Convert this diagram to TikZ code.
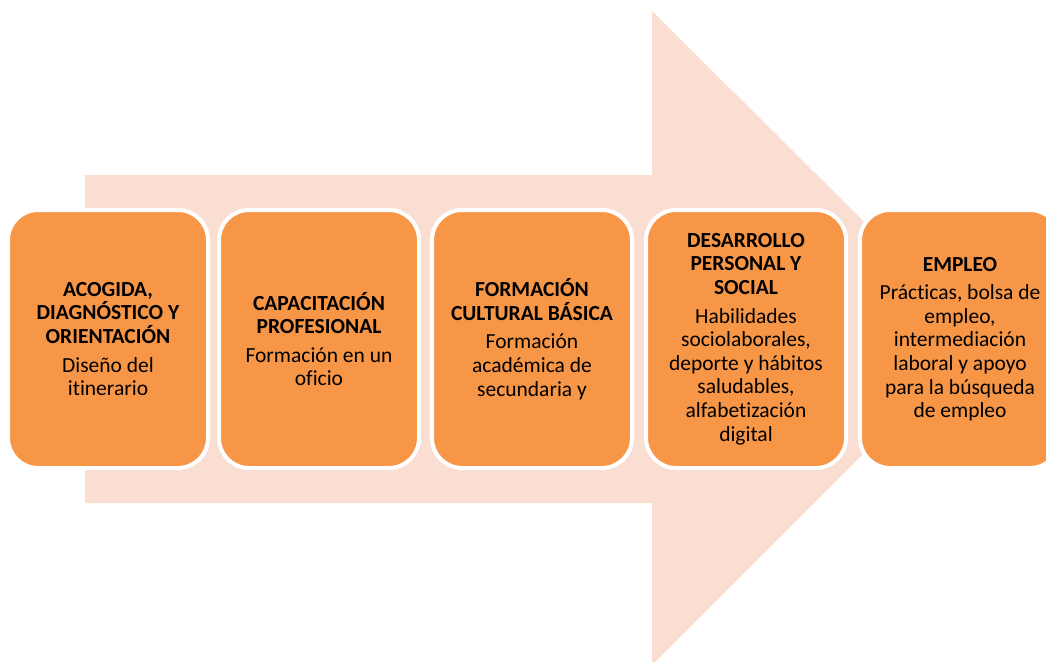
\documentclass[tikz,border=0pt]{standalone}
\usepackage{fontspec}
\setmainfont{Carlito}[Ligatures=NoCommon]
\definecolor{peach}{RGB}{251,222,210}
\definecolor{boxorange}{RGB}{247,150,70}

\begin{document}
\begin{tikzpicture}
  [x=1pt,y=-1pt,every node/.style={rectangle,rounded corners=30pt,draw=white,line width=4pt,
   fill=boxorange,minimum width=200pt,minimum height=258pt,align=center,
   font=\fontsize{21.5}{23.6}\selectfont}]
  \useasboundingbox (0,0) rectangle (1046,661);

  % big background arrow
  \fill [peach] (85,175) -- (652,175) -- (652,11) -- (980,337) -- (652,665) -- (652,503) -- (85,503) -- cycle;

  \node (n1) at (108,339) {\textbf{ACOGIDA,}\\\textbf{DIAGNÓSTICO Y}\\\textbf{ORIENTACIÓN}\\[5pt]Diseño del\\itinerario};
  \node (n2) at (319,339) {\textbf{CAPACITACIÓN}\\\textbf{PROFESIONAL}\\[5pt]Formación en un\\oficio};
  \node (n3) at (532,339) {\textbf{FORMACIÓN}\\\textbf{CULTURAL BÁSICA}\\[5pt]Formación\\académica de\\secundaria y};
  \node (n4) at (746,339) {\textbf{DESARROLLO}\\\textbf{PERSONAL Y}\\\textbf{SOCIAL}\\[5pt]Habilidades\\sociolaborales,\\deporte y hábitos\\saludables,\\alfabetización\\digital};
  \node (n5) at (960,339) {\textbf{EMPLEO}\\[5pt]Prácticas, bolsa de\\empleo,\\intermediación\\laboral y apoyo\\para la búsqueda\\de empleo};

\end{tikzpicture}
\end{document}
